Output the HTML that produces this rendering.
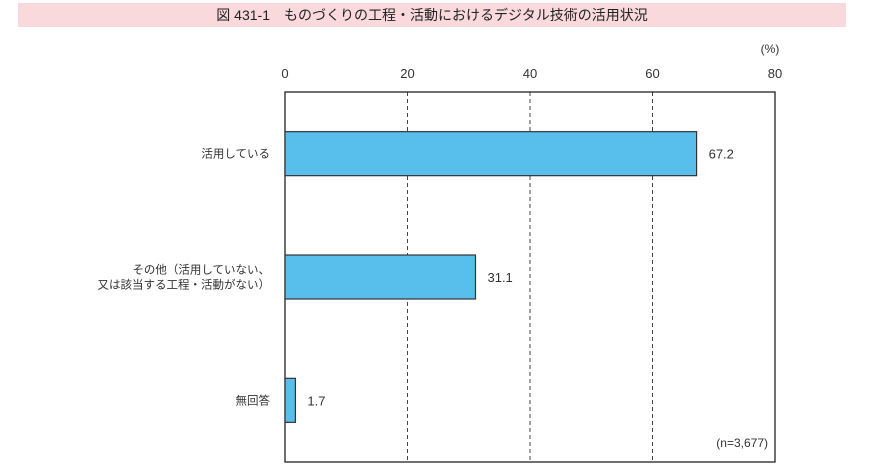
<!DOCTYPE html>
<html><head><meta charset="utf-8"><style>
body{margin:0;width:870px;height:468px;background:#fff;overflow:hidden;font-family:"Liberation Sans","Noto Sans CJK JP",sans-serif;color:#333}
#title{position:absolute;left:18px;top:3px;width:828px;height:24px;background:#f9d9dc;text-align:center;font-size:14px;line-height:24px;color:#222}
</style></head><body>
<div id="title">図 431-1　ものづくりの工程・活動におけるデジタル技術の活用状況</div>
<svg id="chart" width="870" height="468" style="position:absolute;left:0;top:0"></svg>
<script>
const categories=[["活用している"],["その他（活用していない、","又は該当する工程・活動がない）"],["無回答"]];
const values=[67.2,31.1,1.7];
const labels=["67.2","31.1","1.7"];
const ticks=[0,20,40,60,80];
const svg=document.getElementById('chart');const NS='http://www.w3.org/2000/svg';
const x0=285,x1=775,yTop=92,yBot=462,vmax=80;
const X=v=>x0+(x1-x0)*v/vmax;
const bandH=(yBot-yTop)/categories.length;
const Yc=i=>yTop+bandH*(i+0.5);
function mk(t,a,p){const e=document.createElementNS(NS,t);for(const k in a)e.setAttribute(k,a[k]);(p||svg).appendChild(e);return e;}
ticks.forEach(t=>{
 if(t>0&&t<vmax){const l=mk('line',{x1:X(t),x2:X(t),y1:yTop,y2:yBot,stroke:'#444','stroke-dasharray':'4,3','stroke-width':1});
 
 }
 const tx=mk('text',{x:X(t),y:78,'text-anchor':'middle','font-size':13,fill:'#333'});tx.textContent=t;
 
 
});
const u=mk('text',{x:770,y:53,'text-anchor':'middle','font-size':12,fill:'#333'});u.textContent='(%)';


const fr=mk('rect',{x:x0,y:yTop,width:x1-x0,height:yBot-yTop,fill:'none',stroke:'#222','stroke-width':1.3});


values.forEach((v,i)=>{
 const cy=Yc(i);
 const r=mk('rect',{x:x0,y:cy-22,width:X(v)-x0,height:44,fill:'#58bfec',stroke:'#333','stroke-width':1.2});
 
 
 const t=mk('text',{x:X(v)+12,y:cy+5,'font-size':13,fill:'#333'});t.textContent=labels[i];
 
 
 const lines=categories[i];
 lines.forEach((s,j)=>{
  const c=mk('text',{x:270,y:cy+4+(j-(lines.length-1)/2)*15,'text-anchor':'end','font-size':11.5,fill:'#333'});c.textContent=s;
  
  
 });
});
const n=mk('text',{x:768,y:447,'text-anchor':'end','font-size':12,fill:'#333'});n.textContent='(n=3,677)';


</script>
</body></html>
